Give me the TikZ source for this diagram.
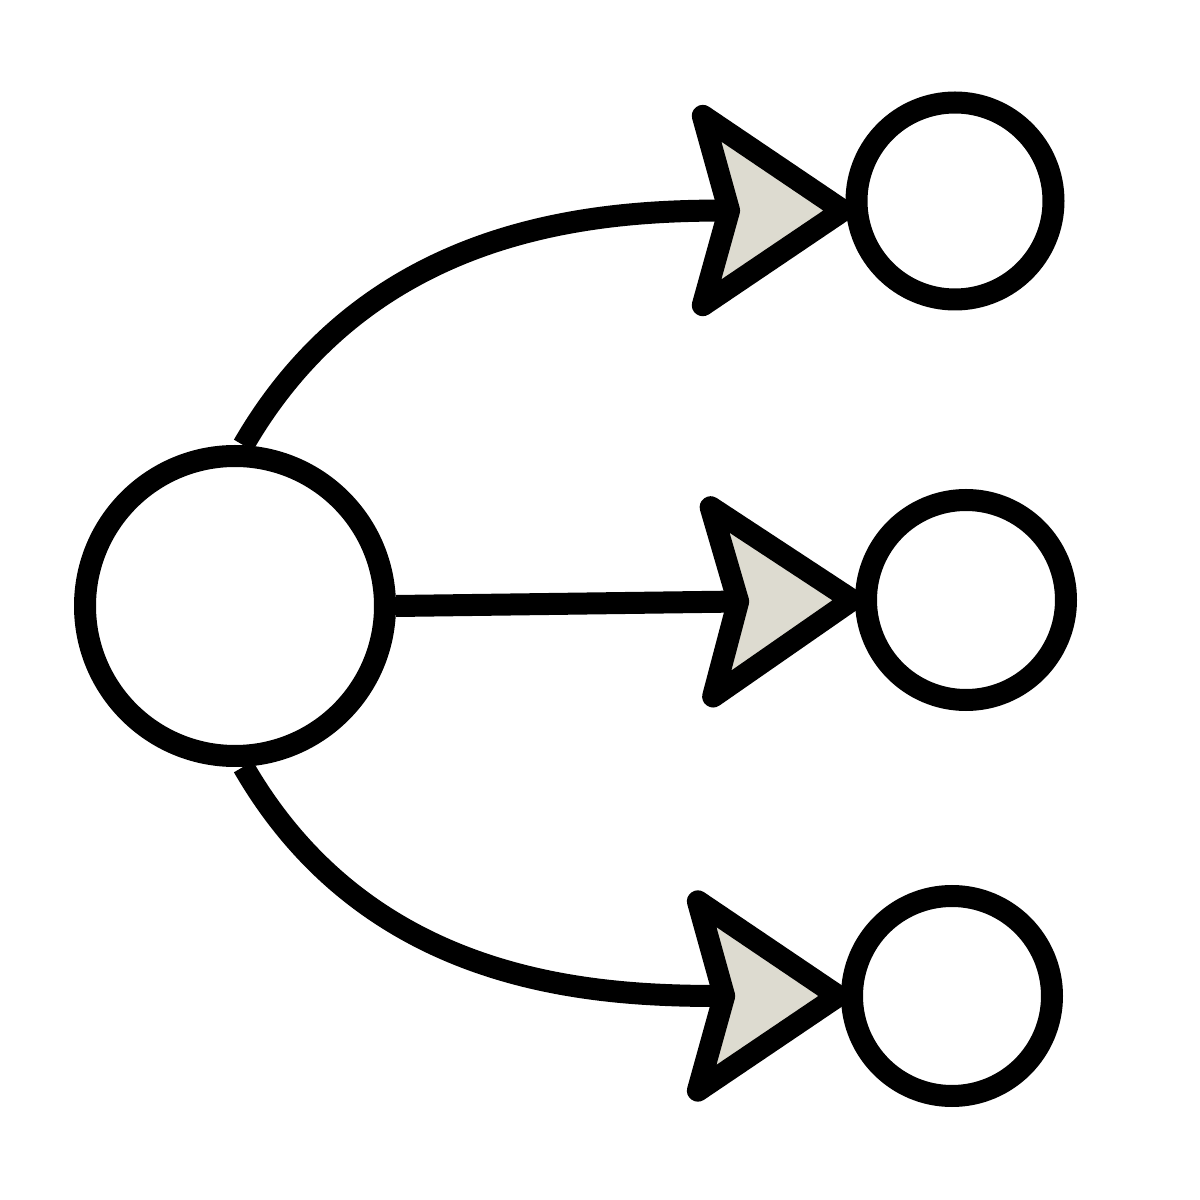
\documentclass[tikz,border=0pt]{standalone}
\usetikzlibrary{arrows.meta}
\definecolor{headgray}{HTML}{DDDBD0}
\begin{document}
\begin{tikzpicture}[line width=0.22cm,
    every node/.style={circle,draw=black,inner sep=0pt},
    bigtip/.style={shorten >=-0.08cm,-{Stealth[length=1.77cm,width=2.37cm,inset=0.32cm,fill=headgray,round]}}]
    \useasboundingbox (0,0) rectangle (12,12);
    \node[minimum size=3cm] (src) at (2.35,5.94) {};
    \node[minimum size=1.97cm] (top) at (9.55,9.99) {};
    \node[minimum size=2cm] (mid) at (9.66,6.0) {};
    \node[minimum size=2cm] (bot) at (9.52,2.04) {};
    \draw[bigtip] (src.87) to[out=60,in=180] (top.185);
    \draw[bigtip] (src.east) -- (mid.west);
    \draw[bigtip] (src.-87) to[out=-60,in=180] (bot.west);
\end{tikzpicture}
\end{document}
